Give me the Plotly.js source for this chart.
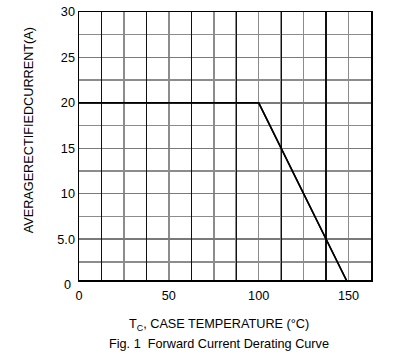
<!DOCTYPE html>
<html>
<head>
<meta charset="utf-8">
<script src="https://cdn.plot.ly/plotly-3.0.1.min.js"></script>
<style>html,body{margin:0;padding:0;background:#fff;}#chart{width:415px;height:358px;}</style>
</head>
<body>
<div id="chart"></div>
<script>
// Derating curve data
const caseTemp = [0, 100, 150];          // Tc (°C)
const avgCurrent = [20, 20, 0];          // average rectified current (A)
const xTickVals = [0, 50, 100, 150];
const xTickText = ['0', '50', '100', '150'];
const yTickVals = [5, 10, 15, 20, 25, 30];
const yTickText = ['5.0', '10', '15', '20', '25', '30'];
const yZeroLabel = '0';

const font = {family: 'Liberation Sans, Arial, sans-serif', size: 12.7, color: '#000'};

const curve = {
  x: caseTemp, y: avgCurrent, xaxis: 'x', yaxis: 'y',
  type: 'scatter', mode: 'lines',
  line: {color: '#000', width: 1.5},
  hoverinfo: 'skip', showlegend: false
};
// same data on the overlay axis that carries the darker grid lines
const curveOverlay = {
  x: caseTemp, y: avgCurrent, xaxis: 'x2', yaxis: 'y',
  type: 'scatter', mode: 'lines',
  line: {color: '#000', width: 1.5},
  hoverinfo: 'skip', showlegend: false
};

const layout = {
  width: 415, height: 358,
  margin: {l: 79, r: 44, t: 12, b: 78},
  paper_bgcolor: '#fff', plot_bgcolor: '#fff',
  font: font,
  showlegend: false,
  xaxis: {
    range: [0, 162.5], showgrid: true, gridcolor: '#8c8c8c', gridwidth: 1.5,
    tickmode: 'array', tickvals: xTickVals, ticktext: xTickText,
    ticks: '', zeroline: false, ticklabelstandoff: 3,
    showline: true, linecolor: '#000', linewidth: 1.5, mirror: true,
    tickfont: font, automargin: false,
    minor: {dtick: 12.5, tick0: 0, showgrid: true, gridcolor: '#8c8c8c', gridwidth: 1.5}
  },
  xaxis2: {
    overlaying: 'x', range: [0, 162.5], tick0: 12.5, dtick: 25,
    showgrid: true, gridcolor: '#111', gridwidth: 1.3,
    showticklabels: false, ticks: '', zeroline: false, showline: false, side: 'top'
  },
  yaxis: {
    range: [0.5, 30], showgrid: true, gridcolor: '#7a7a7a', gridwidth: 1.5,
    tickmode: 'array', tickvals: yTickVals, ticktext: yTickText,
    ticks: '', zeroline: false,
    showline: true, linecolor: '#000', linewidth: 1.5, mirror: true,
    tickfont: font, automargin: false,
    minor: {dtick: 2.5, tick0: 0, showgrid: true, gridcolor: '#8c8c8c', gridwidth: 1.5}
  },
  annotations: [
    {text: yZeroLabel, xref: 'paper', yref: 'paper', x: 0, y: -0.02, xanchor: 'right', yanchor: 'middle',
     xshift: -6, showarrow: false, font: font},
    {text: 'AVERAGERECTIFIEDCURRENT(A)', xref: 'paper', yref: 'paper', x: -0.17, y: 0.56,
     textangle: -90, showarrow: false, xanchor: 'center', yanchor: 'middle', font: font},
    {text: 'T<sub>C</sub>, CASE TEMPERATURE (°C)', xref: 'paper', yref: 'paper', x: 0.48, y: -0.168,
     showarrow: false, xanchor: 'center', yanchor: 'middle', font: font},
    {text: 'Fig. 1  Forward Current Derating Curve', xref: 'paper', yref: 'paper', x: 0.48, y: -0.24,
     showarrow: false, xanchor: 'center', yanchor: 'middle', font: font}
  ]
};

Plotly.newPlot('chart', [curve, curveOverlay], layout, {displayModeBar: false, staticPlot: true});
</script>
</body>
</html>
